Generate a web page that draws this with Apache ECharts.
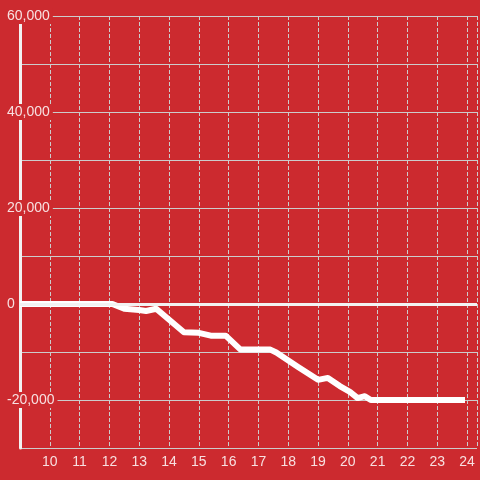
<!DOCTYPE html>
<html>
<head>
<meta charset="utf-8">
<script src="https://cdn.jsdelivr.net/npm/echarts@6/dist/echarts.min.js"></script>
<style>
  html, body { margin:0; padding:0; background:#cc2a2f; }
  #chart { width:480px; height:480px; }
</style>
</head>
<body>
<div id="chart"></div>
<script>
// hours of the day vs running total
const hours  = [9, 12.1, 12.5, 13.0, 13.23, 13.57, 14.5, 15.0, 15.4, 15.9, 16.4, 17.4, 17.6, 18.33, 19.0, 19.33, 19.73, 20.07, 20.33, 20.57, 20.77, 23.93];
const values = [0, 0, -1000, -1250, -1450, -1000, -5900, -6000, -6600, -6600, -9500, -9500, -10100, -13100, -15800, -15400, -17100, -18300, -19600, -19200, -20000, -20000];

const BG = '#cc2a2f';
const LABEL = 'rgba(255,255,255,0.85)';
const FONT = '"Liberation Sans", Arial, sans-serif';

const chart = echarts.init(document.getElementById('chart'));

chart.setOption({
  backgroundColor: BG,
  animation: false,
  grid: { left: 20, right: 0, top: 16, bottom: 32, containLabel: false },
  xAxis: {
    type: 'value',
    min: 9, max: 24.333, interval: 1,
    axisLine: { show: false },
    axisTick: { show: false },
    axisLabel: {
      color: LABEL, fontSize: 14, fontFamily: FONT, margin: 7,
      showMinLabel: false,
      formatter: v => (Number.isInteger(v) ? String(v) : '')
    },
    splitLine: { show: true, lineStyle: { color: '#ccc', width: 1, type: 'dashed' } }
  },
  yAxis: {
    type: 'value',
    min: -30000, max: 60000, interval: 10000,
    axisLine: { show: true, lineStyle: { color: '#f2f2f2', width: 3 } },
    axisTick: { show: false },
    axisLabel: {
      color: LABEL, fontSize: 14, fontFamily: FONT,
      align: 'left', margin: 15,
      backgroundColor: BG, padding: [1, 3, 1, 2],
      formatter: v => (v % 20000 === 0 ? v.toLocaleString('en-US') : '')
    },
    splitLine: { show: true, lineStyle: { color: '#ccc', width: 1 } }
  },
  series: [{
    type: 'line',
    data: hours.map((h, i) => [h, values[i]]),
    showSymbol: false,
    lineStyle: { color: '#fff', width: 6, join: 'round' },
    markLine: {
      silent: true,
      symbol: 'none',
      label: { show: false },
      lineStyle: { color: '#f2f2f2', width: 3, type: 'solid' },
      data: [{ yAxis: 0 }]
    }
  }]
});
</script>
</body>
</html>
